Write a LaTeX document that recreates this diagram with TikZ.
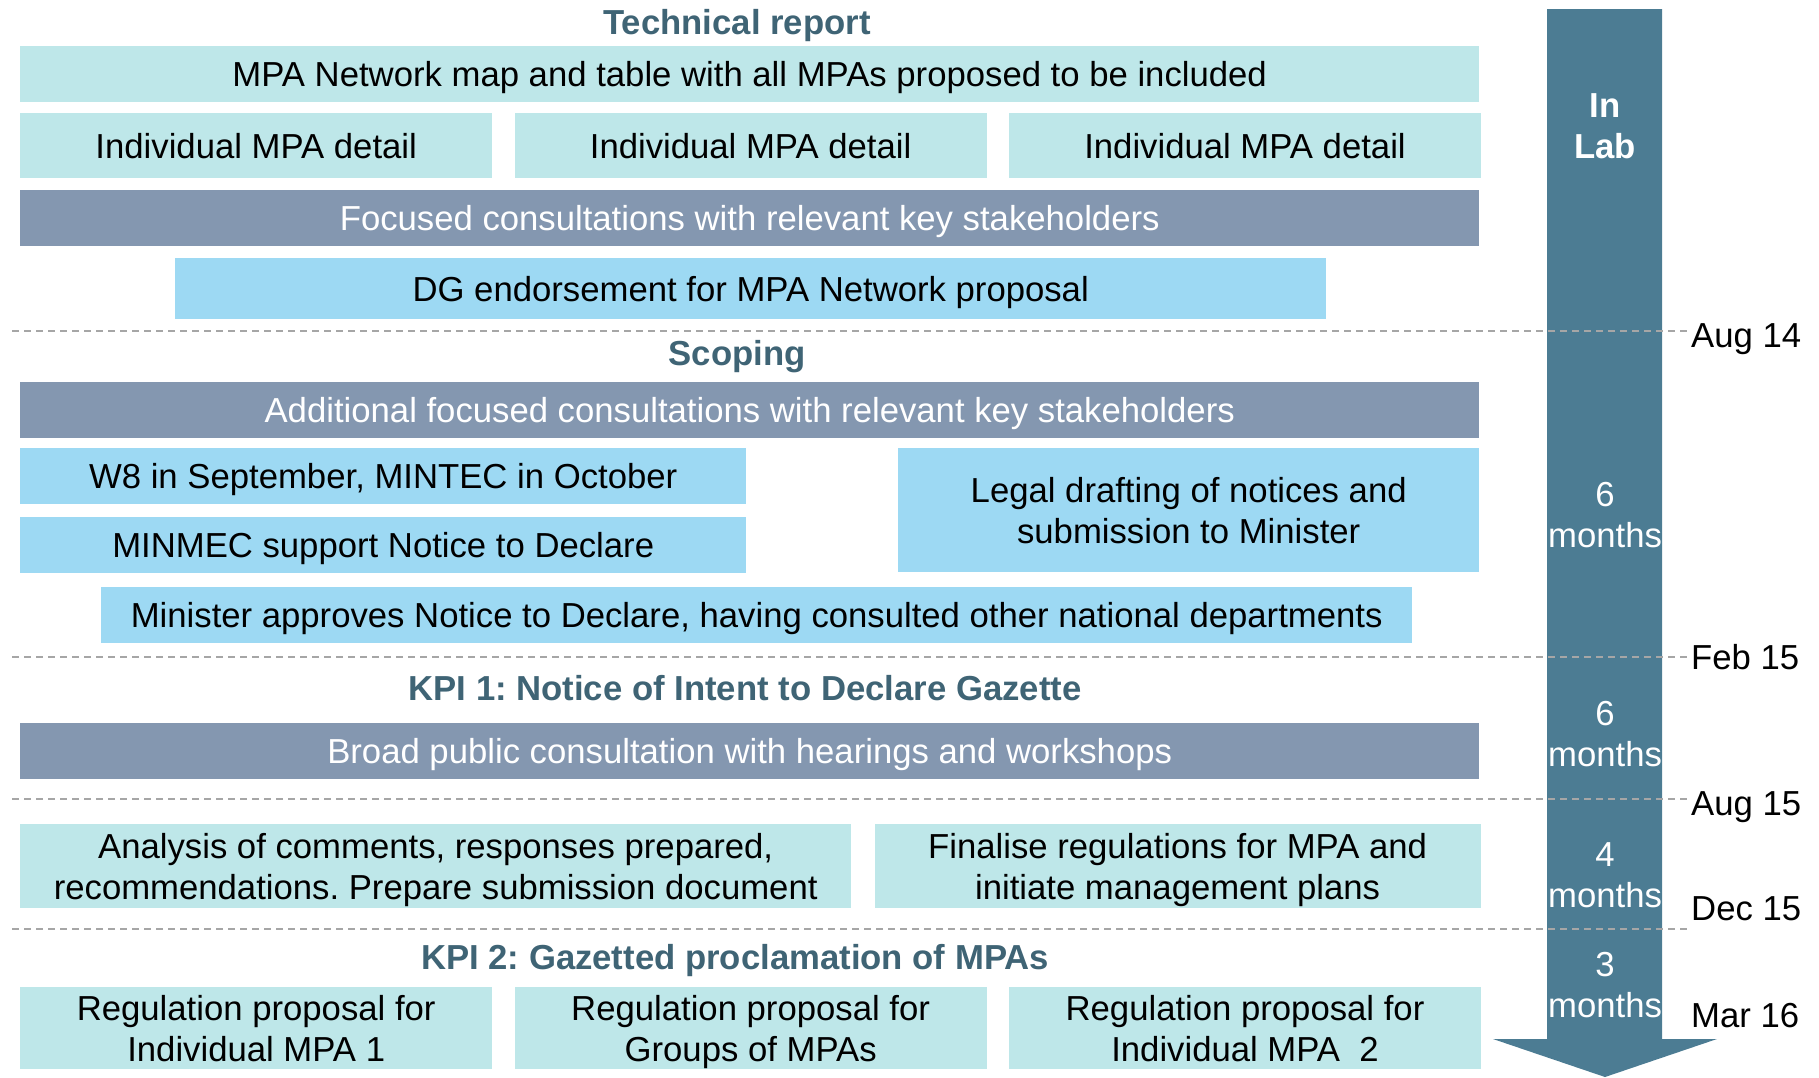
\documentclass[tikz,border=0pt]{standalone}
\usepackage{fontspec}
\setmainfont{Liberation Sans}
\usetikzlibrary{positioning}
\frenchspacing
\definecolor{tealpale}{HTML}{BEE7E9}
\definecolor{skypale}{HTML}{9DD9F3}
\definecolor{slategrey}{HTML}{8497B0}
\definecolor{arrowteal}{HTML}{4C7C93}
\definecolor{headteal}{HTML}{3F6475}
\definecolor{sepgrey}{HTML}{A6A6A6}

\begin{document}
\begin{tikzpicture}[x=1pt,y=-1pt,node distance={22pt}]
	\tikzstyle{txt}=[font=\fontsize{34.7}{41.5}\selectfont, inner sep=0pt, align=center]
	\tikzstyle{box}=[txt, anchor=north west, minimum height=56pt, text depth=0pt]
	\tikzstyle{tb}=[box, fill=tealpale]
	\tikzstyle{sb}=[box, fill=skypale]
	\tikzstyle{gb}=[box, fill=slategrey, text=white]
	\tikzstyle{hd}=[txt, font=\fontsize{34.7}{41.5}\selectfont\bfseries, text=headteal, anchor=base]
	\tikzstyle{lbl}=[txt, text=white]
	\tikzstyle{dt}=[txt, anchor=base west]
	\tikzstyle{dashsep}=[draw=sepgrey, line width=1.5pt, dash pattern=on 7pt off 5pt]

	\useasboundingbox (0,0) rectangle (1819,1077);

	% timeline arrow
	\fill[arrowteal] (1547,9) -- (1662,9) -- (1662,1039) -- (1717,1039) -- (1605,1077)
		-- (1493,1039) -- (1547,1039) -- cycle;
	\foreach \y in {331,657,799,929}
		\draw[dashsep] (12,\y) -- (1688,\y);

	% technical report
	\node[hd] (techttl) at (737,34) {Technical report};
	\node[tb, minimum width=1459pt] (netmap) at (20,46) {MPA Network map and table with all MPAs proposed to be included};
	\node[tb, minimum width=472pt, minimum height=65pt] (detail1) at (20,113) {Individual MPA detail};
	\node[tb, minimum width=472pt, minimum height=65pt] (detail2) [right=of detail1] {Individual MPA detail};
	\node[tb, minimum width=472pt, minimum height=65pt] (detail3) [right=of detail2] {Individual MPA detail};
	\node[gb, minimum width=1459pt] (focus) at (20,190) {Focused consultations with relevant key stakeholders};
	\node[sb, minimum width=1151pt, minimum height=61pt] (dg) at (175,258) {DG endorsement for MPA Network proposal};

	% scoping
	\node[hd] (scopettl) at (737,365) {Scoping};
	\node[gb, minimum width=1459pt] (addl) at (20,382) {Additional focused consultations with relevant key stakeholders};
	\node[sb, minimum width=726pt] (w8) at (20,448) {W8 in September, MINTEC in October};
	\node[sb, minimum width=726pt] (minmec) at (20,517) {MINMEC support Notice to Declare};
	\node[sb, minimum width=581pt, minimum height=124pt] (legal) at (898,448) {Legal drafting of notices and\\submission to Minister};
	\node[sb, minimum width=1311pt] (minister) at (101,587) {Minister approves Notice to Declare, having consulted other national departments};

	% kpi 1
	\node[hd] (kpi1ttl) at (745,700) {KPI 1: Notice of Intent to Declare Gazette};
	\node[gb, minimum width=1459pt] (broad) at (20,723) {Broad public consultation with hearings and workshops};
	\node[tb, minimum width=831pt, minimum height=84pt] (analysis) at (20,824) {Analysis of comments, responses prepared,\\recommendations. Prepare submission document};
	\node[tb, minimum width=606pt, minimum height=84pt] (finalise) [right=23pt of analysis] {Finalise regulations for MPA and\\initiate management plans};

	% kpi 2
	\node[hd] (kpi2ttl) at (735,969) {KPI 2: Gazetted proclamation of MPAs};
	\node[tb, minimum width=472pt, minimum height=82pt] (reg1) at (20,987) {Regulation proposal for\\Individual MPA 1};
	\node[tb, minimum width=472pt, minimum height=82pt] (reg2) [right=of reg1] {Regulation proposal for\\Groups of MPAs};
	\node[tb, minimum width=472pt, minimum height=82pt] (reg3) [right=of reg2] {Regulation proposal for\\Individual MPA\ \ 2};

	% durations
	\node[lbl, font=\fontsize{34.7}{41.5}\selectfont\bfseries] (inlab) at (1605,126) {In\\Lab};
	\node[lbl] (dur1) at (1605,515) {6\\months};
	\node[lbl] (dur2) at (1605,734) {6\\months};
	\node[lbl] (dur3) at (1605,875) {4\\months};
	\node[lbl] (dur4) at (1605,985) {3\\months};

	% dates
	\node[dt] (aug14) at (1691,347) {Aug 14};
	\node[dt] (feb15) at (1691,669) {Feb 15};
	\node[dt] (aug15) at (1691,815) {Aug 15};
	\node[dt] (dec15) at (1691,920) {Dec 15};
	\node[dt] (mar16) at (1691,1027) {Mar 16};
\end{tikzpicture}
\end{document}
